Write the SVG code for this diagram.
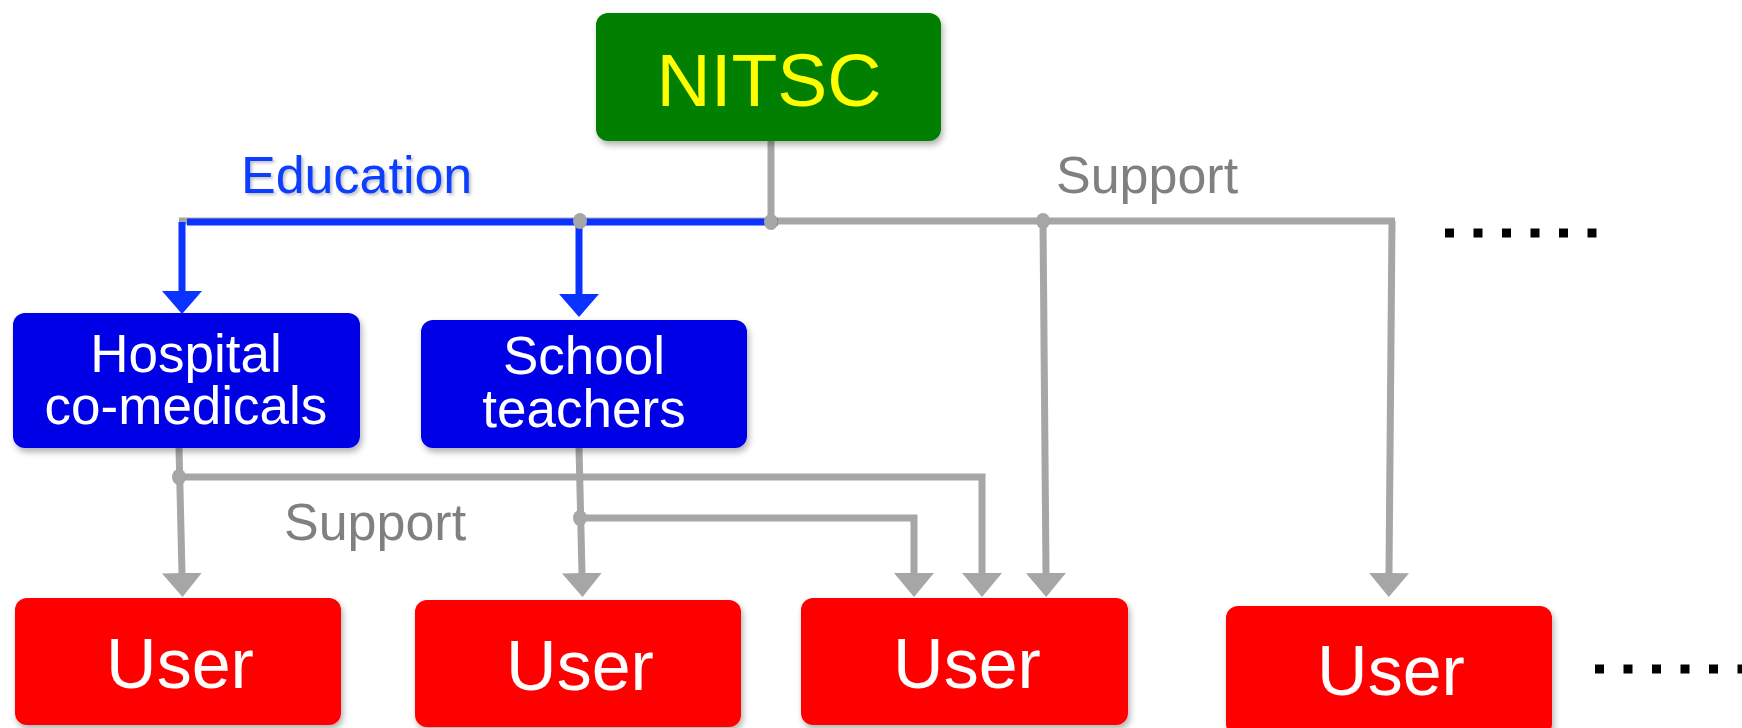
<svg xmlns="http://www.w3.org/2000/svg" width="1742" height="728" viewBox="0 0 1742 728">
  <style>
    .lbl { font-family: "Liberation Sans", Arial, sans-serif; }
    .gray { fill: none; stroke: #A6A6A6; stroke-width: 7; }
    .blue { fill: none; stroke: #0A33FF; stroke-width: 7; }
    .dot { fill: #A6A6A6; }
    .box { filter: url(#sh); }
    .wt { fill: #FFFFFF; text-anchor: middle; }
  </style>
  <defs>
    <filter id="sh" x="-10%" y="-10%" width="125%" height="130%">
      <feDropShadow dx="2" dy="4" stdDeviation="3" flood-color="#000" flood-opacity="0.3"/>
    </filter>
    <filter id="tsh" x="-5%" y="-10%" width="115%" height="130%">
      <feDropShadow dx="2" dy="2" stdDeviation="1.5" flood-color="#000" flood-opacity="0.25"/>
    </filter>
    <marker id="ag" markerUnits="userSpaceOnUse" markerWidth="24" markerHeight="40" viewBox="0 -20 24 40" refX="0" refY="0" orient="auto">
      <path d="M0,-20 L24,0 L0,20 z" fill="#A6A6A6"/>
    </marker>
    <marker id="ab" markerUnits="userSpaceOnUse" markerWidth="24" markerHeight="40" viewBox="0 -20 24 40" refX="0" refY="0" orient="auto">
      <path d="M0,-20 L23,0 L0,20 z" fill="#0A33FF"/>
    </marker>
  </defs>

  <g id="connectors">
    <path class="gray" d="M771,141 V221"/>
    <path class="gray" d="M179,221 H1395"/>
    <path class="gray" d="M1043,221 L1046,573" marker-end="url(#ag)"/>
    <path class="gray" d="M1392,221 L1389,573" marker-end="url(#ag)"/>
    <path class="gray" d="M179,448 L182,573" marker-end="url(#ag)"/>
    <path class="gray" d="M179,477 H982 V573" marker-end="url(#ag)"/>
    <path class="gray" d="M579,448 L582,573" marker-end="url(#ag)"/>
    <path class="gray" d="M580,518 H914 V573" marker-end="url(#ag)"/>
    <path class="blue" d="M187,222 H778"/>
    <path class="blue" d="M182,222 V291" marker-end="url(#ab)"/>
    <path class="blue" d="M579,222 V294" marker-end="url(#ab)"/>
    <ellipse class="dot" cx="580" cy="221" rx="7" ry="8"/>
    <ellipse class="dot" cx="771" cy="222" rx="7" ry="8"/>
    <ellipse class="dot" cx="1043" cy="221" rx="7" ry="8"/>
    <ellipse class="dot" cx="179" cy="477" rx="7" ry="8"/>
    <ellipse class="dot" cx="580" cy="518" rx="7" ry="8"/>
    <text class="lbl" x="241" y="193" font-size="52" fill="#0A3CFF" filter="url(#tsh)">Education</text>
    <text class="lbl" x="1056" y="193" font-size="52" fill="#808080">Support</text>
    <text class="lbl" x="284" y="540" font-size="52" fill="#808080">Support</text>
  </g>

  <g id="nitsc">
    <rect class="box" x="596" y="13" width="345" height="128" rx="12" fill="#007F00"/>
    <text class="lbl" x="769" y="106" font-size="75" fill="#FFFF00" text-anchor="middle">NITSC</text>
  </g>

  <g id="hospital">
    <rect class="box" x="13" y="313" width="347" height="135" rx="12" fill="#0000E6"/>
    <text class="lbl wt" x="186" y="372" font-size="53">Hospital</text>
    <text class="lbl wt" x="186" y="424" font-size="53">co-medicals</text>
  </g>

  <g id="school">
    <rect class="box" x="421" y="320" width="326" height="128" rx="12" fill="#0000E6"/>
    <text class="lbl wt" x="584" y="374" font-size="53">School</text>
    <text class="lbl wt" x="584" y="427" font-size="53">teachers</text>
  </g>

  <g id="user1">
    <rect class="box" x="15" y="598" width="326" height="127" rx="12" fill="#FF0000"/>
    <text class="lbl wt" x="180" y="688" font-size="70">User</text>
  </g>
  <g id="user2">
    <rect class="box" x="415" y="600" width="326" height="127" rx="12" fill="#FF0000"/>
    <text class="lbl wt" x="580" y="690" font-size="70">User</text>
  </g>
  <g id="user3">
    <rect class="box" x="801" y="598" width="327" height="127" rx="12" fill="#FF0000"/>
    <text class="lbl wt" x="967" y="688" font-size="70">User</text>
  </g>
  <g id="user4">
    <rect class="box" x="1226" y="606" width="326" height="130" rx="12" fill="#FF0000"/>
    <text class="lbl wt" x="1391" y="695" font-size="70">User</text>
  </g>

  <g id="ellipsis">
    <line x1="1445" y1="233" x2="1597" y2="233" stroke="#000" stroke-width="9" stroke-dasharray="9 19.5"/>
    <line x1="1595" y1="669" x2="1742" y2="669" stroke="#000" stroke-width="9" stroke-dasharray="9 19.5"/>
  </g>
</svg>
